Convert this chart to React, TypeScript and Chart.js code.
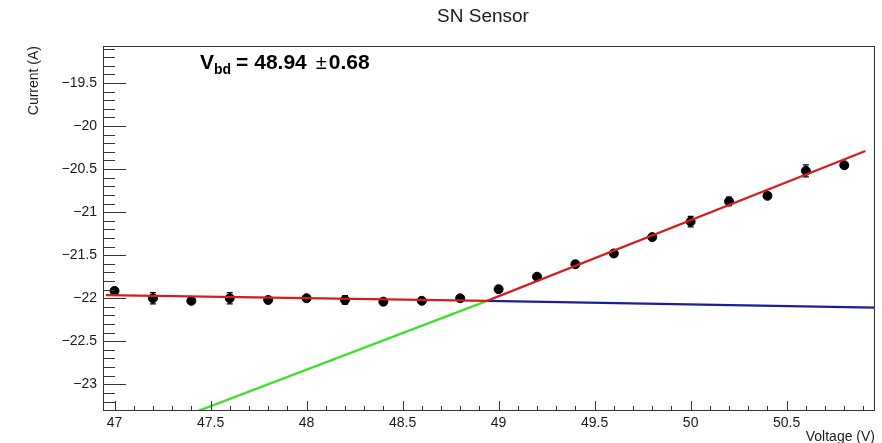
import React, { useEffect, useRef } from 'react';
import { Chart, registerables } from 'chart.js';

Chart.register(...registerables);

// ---- data ----
const voltage = [47.0, 47.2, 47.4, 47.6, 47.8, 48.0, 48.2, 48.4, 48.6, 48.8, 49.0, 49.2, 49.4, 49.6, 49.8, 50.0, 50.2, 50.4, 50.6, 50.8];
const current = [-21.915, -22.0, -22.03, -22.0, -22.02, -22.0, -22.02, -22.04, -22.03, -22.0, -21.895, -21.75, -21.605, -21.48, -21.29, -21.11, -20.875, -20.81, -20.52, -20.455];
const currentErr = [0.03, 0.065, 0.03, 0.065, 0.02, 0.02, 0.05, 0.04, 0.03, 0.03, 0.02, 0.02, 0.02, 0.03, 0.03, 0.06, 0.05, 0.03, 0.07, 0.03];

// total fit (red)
const fitTotalX = [46.955, 48.94, 50.91];
const fitTotalY = [-21.965, -22.03, -20.29];
// linear extrapolation (green)
const fitLinearX = [47.4, 48.94];
const fitLinearY = [-23.34, -22.03];
// flat extrapolation (blue)
const fitFlatX = [48.94, 50.96];
const fitFlatY = [-22.03, -22.11];

const xRange = [46.94, 50.96];
const yRange = [-23.31, -19.07];
const xTicks = [47, 47.5, 48, 48.5, 49, 49.5, 50, 50.5];
const yTicks = [-23, -22.5, -22, -21.5, -21, -20.5, -20, -19.5];

const titleText = 'SN Sensor';
const xTitle = 'Voltage (V)';
const yTitle = 'Current (A)';
const vbdValue = '48.94';
const vbdError = '0.68';

const FONT = '"Liberation Sans", Arial, Helvetica, sans-serif';
const INK = '#1a1a1a';

const fmt = (v: number) => (v < 0 ? '\u2212' + String(Math.abs(v)) : String(v));

const zip = (xs: number[], ys: number[]) => xs.map((x, i) => ({ x, y: ys[i] }));

const rootPlugin = {
  id: 'rootStyle',
  beforeDatasetsDraw(chart: any) {
    const { ctx, scales } = chart;
    const xs = scales.x;
    const ys = scales.y;
    ctx.save();
    ctx.strokeStyle = '#000';
    ctx.lineWidth = 1.2;
    voltage.forEach((v, i) => {
      const px = xs.getPixelForValue(v);
      const y1 = ys.getPixelForValue(current[i] + currentErr[i]);
      const y2 = ys.getPixelForValue(current[i] - currentErr[i]);
      ctx.beginPath();
      ctx.moveTo(px, y1);
      ctx.lineTo(px, y2);
      ctx.moveTo(px - 3, y1);
      ctx.lineTo(px + 3, y1);
      ctx.moveTo(px - 3, y2);
      ctx.lineTo(px + 3, y2);
      ctx.stroke();
    });
    ctx.restore();
  },
  afterDraw(chart: any) {
    const { ctx, chartArea: a, scales } = chart;
    const xs = scales.x;
    const ys = scales.y;
    ctx.save();
    // frame
    ctx.strokeStyle = '#333';
    ctx.lineWidth = 1;
    ctx.strokeRect(a.left + 0.5, a.top + 0.5, a.right - a.left - 1, a.bottom - a.top - 1);
    // x ticks (inside, from bottom)
    ctx.beginPath();
    for (let k = Math.ceil(xRange[0] * 10); k <= Math.floor(xRange[1] * 10); k++) {
      const v = k / 10;
      const major = k % 5 === 0;
      const px = Math.round(xs.getPixelForValue(v)) + 0.5;
      ctx.moveTo(px, a.bottom);
      ctx.lineTo(px, a.bottom - (major ? 10 : 5));
    }
    // y ticks (inside, from left)
    for (let k = Math.ceil(yRange[0] * 10); k <= Math.floor(yRange[1] * 10); k++) {
      const v = k / 10;
      const major = Math.abs(k) % 5 === 0;
      const py = Math.round(ys.getPixelForValue(v)) + 0.5;
      ctx.moveTo(a.left, py);
      ctx.lineTo(a.left + (major ? 23 : 12), py);
    }
    ctx.stroke();

    ctx.fillStyle = INK;
    // title
    ctx.font = `19px ${FONT}`;
    ctx.textAlign = 'center';
    ctx.textBaseline = 'alphabetic';
    ctx.fillText(titleText, (a.left + a.right) / 2 - 6, 22);
    // x title
    ctx.font = `14px ${FONT}`;
    ctx.textAlign = 'right';
    ctx.fillText(xTitle, a.right, 441);
    // y title
    ctx.save();
    ctx.translate(38, a.top);
    ctx.rotate(-Math.PI / 2);
    ctx.textAlign = 'right';
    ctx.fillText(yTitle, 0, 0);
    ctx.restore();

    // annotation V_bd = 48.94 ± 0.68
    let x = a.left + 97;
    const base = 69;
    ctx.textAlign = 'left';
    ctx.fillStyle = '#000';
    ctx.font = `bold 21px ${FONT}`;
    ctx.fillText('V', x, base);
    x += ctx.measureText('V').width;
    ctx.font = `bold 14px ${FONT}`;
    ctx.fillText('bd', x, base + 5);
    x += ctx.measureText('bd').width + 5;
    ctx.font = `bold 21px ${FONT}`;
    const mid = '= ' + vbdValue;
    ctx.fillText(mid, x, base);
    x += ctx.measureText(mid).width + 9;
    ctx.font = `20px ${FONT}`;
    ctx.fillText('\u00b1', x, base);
    x += ctx.measureText('\u00b1').width + 2;
    ctx.font = `bold 21px ${FONT}`;
    ctx.fillText(vbdError, x, base);
    ctx.restore();
  },
};

export default function App() {
  const ref = useRef<HTMLCanvasElement | null>(null);

  useEffect(() => {
    if (!ref.current) return;
    const chart = new Chart(ref.current, {
      type: 'scatter',
      data: {
        datasets: [
          {
            label: 'Total fit',
            data: zip(fitTotalX, fitTotalY),
            showLine: true,
            borderColor: '#d41c1c',
            borderWidth: 2.3,
            pointRadius: 0,
            clip: 0,
            order: 0,
          },
          {
            label: 'Data',
            data: zip(voltage, current),
            showLine: false,
            backgroundColor: '#000',
            borderColor: '#000',
            pointRadius: 4.5,
            pointHoverRadius: 4.5,
            order: 1,
          },
          {
            label: 'Linear',
            data: zip(fitLinearX, fitLinearY),
            showLine: true,
            borderColor: '#3ee02a',
            borderWidth: 2.3,
            pointRadius: 0,
            clip: 0,
            order: 2,
          },
          {
            label: 'Flat',
            data: zip(fitFlatX, fitFlatY),
            showLine: true,
            borderColor: '#1c1c9c',
            borderWidth: 2.3,
            pointRadius: 0,
            clip: 0,
            order: 3,
          },
        ],
      },
      options: {
        responsive: false,
        animation: false,
        events: [],
        layout: { padding: { top: 46, right: 7, left: 0, bottom: 0 } },
        plugins: {
          legend: { display: false },
          tooltip: { enabled: false },
          title: { display: false },
        },
        scales: {
          x: {
            type: 'linear',
            min: xRange[0],
            max: xRange[1],
            afterBuildTicks: (s: any) => {
              s.ticks = xTicks.map((v) => ({ value: v }));
            },
            afterFit: (s: any) => {
              s.height = 32;
            },
            grid: { display: false, drawTicks: false },
            border: { display: false },
            ticks: {
              padding: 4,
              maxRotation: 0,
              autoSkip: false,
              color: INK,
              font: { family: FONT, size: 14 },
              callback: (v: any) => fmt(Number(v)),
            },
          },
          y: {
            type: 'linear',
            min: yRange[0],
            max: yRange[1],
            afterBuildTicks: (s: any) => {
              s.ticks = yTicks.map((v) => ({ value: v }));
            },
            afterFit: (s: any) => {
              s.width = 103;
            },
            grid: { display: false, drawTicks: false },
            border: { display: false },
            ticks: {
              padding: 6,
              autoSkip: false,
              color: INK,
              font: { family: FONT, size: 14 },
              callback: (v: any) => fmt(Number(v)),
            },
          },
        },
      },
      plugins: [rootPlugin],
    } as any);
    return () => chart.destroy();
  }, []);

  return (
    <div style={{ position: 'absolute', left: 0, top: 0, width: 882, height: 443, background: '#fff' }}>
      <canvas ref={ref} width={882} height={443} style={{ display: 'block' }} />
    </div>
  );
}
